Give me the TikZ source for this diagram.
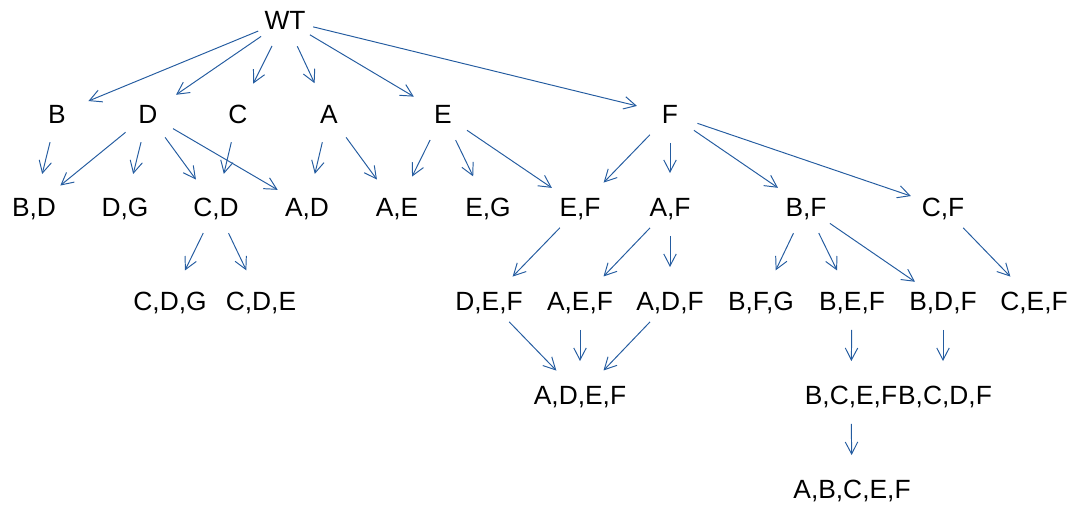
\documentclass[tikz,border=0pt]{standalone}
\usepackage{fontspec}
\setmainfont{Liberation Sans}
\usetikzlibrary{arrows.meta}
\definecolor{edgeblue}{RGB}{36,92,160}

\begin{document}
\begin{tikzpicture}[x=0.02cm, y=-0.02cm,
    lbl/.style={inner sep=0pt, text height=10.7pt, text depth=0pt, font=\fontsize{15}{18}\selectfont},
    link/.style={edgeblue, line width=0.55pt, -{Straight Barb[length=0.24cm, width=0.25cm, line width=0.55pt]},
      shorten <=0.58cm, shorten >=0.68cm}]
  \useasboundingbox (0,0) rectangle (1074,506);

  % Root
  \node[lbl] (wt) at (285,20) {WT};

  % Single mutants
  \node[lbl] (b) at (57,114) {B};
  \node[lbl] (d) at (148,114) {D};
  \node[lbl] (c) at (238,114) {C};
  \node[lbl] (a) at (329,114) {A};
  \node[lbl] (e) at (443,114) {E};
  \node[lbl] (f) at (670,114) {F};

  % Double mutants
  \node[lbl] (bd) at (34,207) {B,D};
  \node[lbl] (dg) at (125,207) {D,G};
  \node[lbl] (cd) at (216,207) {C,D};
  \node[lbl] (ad) at (307,207) {A,D};
  \node[lbl] (ae) at (397,207) {A,E};
  \node[lbl] (eg) at (488,207) {E,G};
  \node[lbl] (ef) at (580,207) {E,F};
  \node[lbl] (af) at (670,207) {A,F};
  \node[lbl] (bf) at (806,207) {B,F};
  \node[lbl] (cf) at (943,207) {C,F};

  % Triple mutants
  \node[lbl] (cdg) at (170,301) {C,D,G};
  \node[lbl] (cde) at (261,301) {C,D,E};
  \node[lbl] (def) at (489,301) {D,E,F};
  \node[lbl] (aef) at (580,301) {A,E,F};
  \node[lbl] (adf) at (670,301) {A,D,F};
  \node[lbl] (bfg) at (761,301) {B,F,G};
  \node[lbl] (bef) at (852,301) {B,E,F};
  \node[lbl] (bdf) at (943,301) {B,D,F};
  \node[lbl] (cef) at (1034,301) {C,E,F};

  % Quadruple and quintuple mutants
  \node[lbl] (adef) at (580,395) {A,D,E,F};
  \node[lbl] (bcef) at (851,395) {B,C,E,F};
  \node[lbl] (bcdf) at (945,395) {B,C,D,F};
  \node[lbl] (abcef) at (852,489) {A,B,C,E,F};

  % Edges from the root
  \foreach \n in {b,d,c,a,e,f}
    \draw[link] (wt.center) -- (\n.center);

  % Edges into the double mutants
  \draw[link] (b.center) -- (bd.center);
  \foreach \n in {bd,dg,cd,ad}
    \draw[link] (d.center) -- (\n.center);
  \draw[link] (c.center) -- (cd.center);
  \draw[link] (a.center) -- (ad.center);
  \draw[link] (a.center) -- (ae.center);
  \foreach \n in {ae,eg,ef}
    \draw[link] (e.center) -- (\n.center);
  \foreach \n in {ef,af,bf,cf}
    \draw[link] (f.center) -- (\n.center);

  % Edges into the triple mutants
  \draw[link] (cd.center) -- (cdg.center);
  \draw[link] (cd.center) -- (cde.center);
  \draw[link] (ef.center) -- (def.center);
  \draw[link] (af.center) -- (aef.center);
  \draw[link] (af.center) -- (adf.center);
  \foreach \n in {bfg,bef,bdf}
    \draw[link] (bf.center) -- (\n.center);
  \draw[link] (cf.center) -- (cef.center);

  % Edges further down
  \foreach \n in {def,aef,adf}
    \draw[link] (\n.center) -- (adef.center);
  \draw[link] (bef.center) -- (bcef.center);
  \draw[link] (bdf.center) -- (bdf.center |- bcdf.center);
  \draw[link] (bcef.center) -- (abcef.center);

\end{tikzpicture}
\end{document}
